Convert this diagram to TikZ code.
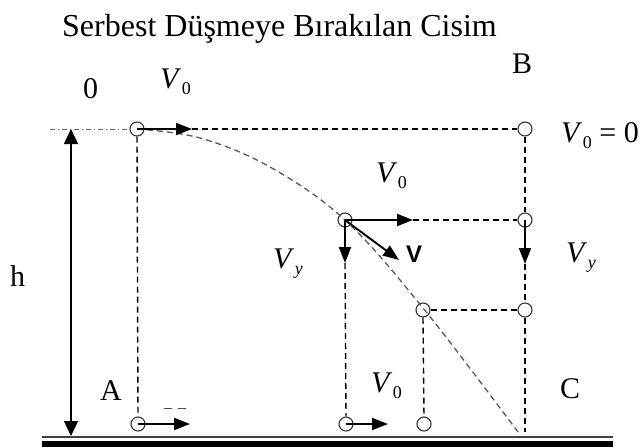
\documentclass[tikz,border=0pt]{standalone}
\usepackage{fontspec}
\setmainfont{Liberation Serif}
\newfontfamily\sansb{Liberation Sans}
\usetikzlibrary{arrows.meta}
\newcommand{\Vsub}[1]{\textit{V}\kern0.5pt\raisebox{-6pt}{\fontsize{18}{18}\selectfont #1}}
\begin{document}
\begin{tikzpicture}[x=1pt,y=-1pt,
  ball/.style={circle,draw=black!80,line width=1.1pt,minimum size=14pt,inner sep=0pt},
  dsh/.style={dash pattern=on 6pt off 4pt,line width=1.4pt},
  vec/.style={line width=1.9pt,-{Triangle[length=16pt,width=12pt]}},
  lbl/.style={inner sep=0pt,anchor=base west,font=\fontsize{30}{32}\selectfont},
]
\useasboundingbox (0,0) rectangle (642,447);
% title
\node[lbl,font=\fontsize{32}{34}\selectfont] (title) at (62,36) {Serbest Düşmeye Bırakılan Cisim};
% balls
\node[ball] (c0) at (137,129) {};
\node[ball] (cB) at (525,129) {};
\node[ball] (cM) at (345,220) {};
\node[ball] (cMR) at (525,220) {};
\node[ball] (cN) at (423,310) {};
\node[ball] (cNR) at (525,310) {};
\node[ball] (cA) at (138,424) {};
\node[ball] (cD) at (346,424) {};
\node[ball] (cE) at (424,424) {};
% coordinates
\coordinate (t0) at (192,129);
\coordinate (tMR) at (413,220);
\coordinate (tMD) at (345,263);
\coordinate (tV) at (399,260);
\coordinate (tRD) at (525,264);
\coordinate (tA) at (190,424);
\coordinate (tD) at (388,424);
\coordinate (hTop) at (71,129);
\coordinate (hBot) at (71,436);
\coordinate (hl) at (50,129);
\coordinate (gC) at (518,432);
\coordinate (gR) at (525,432);
\coordinate (gL) at (42,437);
\coordinate (gE) at (613,437);
\coordinate (m1) at (164,408);
\coordinate (m2) at (187,408);
% dashed lines
\draw[dash pattern=on 5pt off 3pt on 1pt off 3pt,line width=0.6pt,black!60] (hl) -- (c0.west);
\draw[dsh] (t0) -- (cB.west);
\draw[dsh] (c0.south) -- (cA.north);
\draw[dsh] (tMR) -- (cMR.west);
\draw[dsh] (cB.south) -- (cMR.north);
\draw[dsh] (tMD) -- (cD.north);
\draw[dsh] (tRD) -- (cNR.north);
\draw[dsh] (cN.east) -- (cNR.west);
\draw[dsh] (cN.south) -- (cE.north);
\draw[dsh] (cNR.south) -- (gR);
\draw[dash pattern=on 6pt off 4pt,line width=1.3pt,black!65] plot[smooth,tension=0.6] coordinates {(137,129) (200,138) (270,167) (345,220) (423,308) (518,432)};
\draw[dash pattern=on 8pt off 6pt,line width=0.8pt,black!70] (m1) -- (m2);
% vectors
\draw[vec] (c0.center) -- (t0);
\draw[vec] (cM.center) -- (tMR);
\draw[vec] (cM.center) -- (tMD);
\draw[vec] (cM.center) -- (tV);
\draw[vec] (cMR.center) -- (tRD);
\draw[vec] (cA.center) -- (tA);
\draw[vec] (cD.center) -- (tD);
% height arrow
\draw[line width=1.4pt,{Triangle[length=15pt,width=14pt]}-{Triangle[length=15pt,width=14pt]}] (hBot) -- (hTop);
% ground
\draw[line width=2.2pt,black!75] (gL) -- (gE);
\fill[black] (42,441) rectangle (613,447);
% labels
\node[lbl] (l0) at (83,98) {0};
\node[lbl] (v0a) at (160,88) {\Vsub{0}};
\node[lbl] (lB) at (512,73) {B};
\node[lbl] (v00) at (561,142) {\Vsub{0}\ = 0};
\node[lbl] (v0b) at (376,182) {\Vsub{0}};
\node[lbl] (vyl) at (273,268) {\Vsub{\textit{y}}};
\node[inner sep=0pt,anchor=base west,font=\sansb\bfseries\fontsize{24}{26}\selectfont] (vv) at (406,262) {V};
\node[lbl] (vyr) at (566,262) {\Vsub{\textit{y}}};
\node[lbl] (lh) at (10,286) {h};
\node[lbl] (lA) at (100,400) {A};
\node[lbl] (v0c) at (371,392) {\Vsub{0}};
\node[lbl] (lC) at (560,398) {C};
\end{tikzpicture}
\end{document}
